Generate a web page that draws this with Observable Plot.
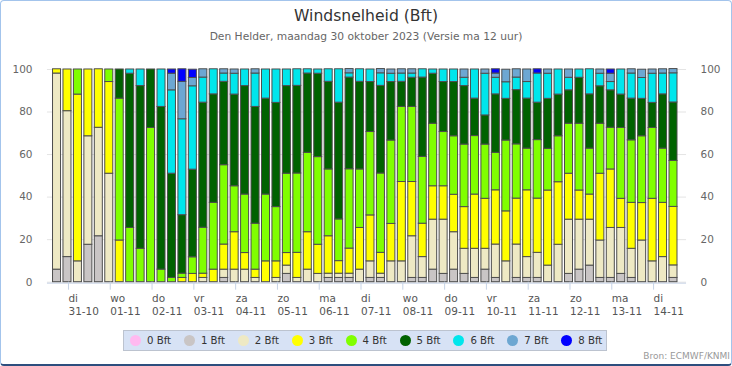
<!DOCTYPE html>
<html>
<head>
<meta charset="utf-8">
<script src="https://cdn.jsdelivr.net/npm/d3@7"></script>
<script src="https://cdn.jsdelivr.net/npm/@observablehq/plot@0.6"></script>
<style>
  body { margin: 0; background: #fff; font-family: "DejaVu Sans", sans-serif; }
  #wrap { position: relative; width: 732px; height: 366px; box-sizing: border-box;
          border: 1px solid #a3c4ec; border-bottom: 2px solid #2d4e7e; border-radius: 4px; overflow: hidden; background: #fff; }
  #title { position: absolute; left: 0; width: 100%; top: 8px; text-align: center; font-size: 15.6px; line-height: 15.6px; color: #333; }
  #subtitle { position: absolute; left: 0; width: 100%; top: 31px; text-align: center; font-size: 10.7px; line-height: 10.7px; color: #666; }
  #chart { position: absolute; left: -1px; top: 59px; }
  #legend { position: absolute; left: 122px; top: 329px; width: 484px; height: 21px; box-sizing: border-box;
            background: #d7e2f5; border: 1px solid #bcc3cf; }
  .item { position: absolute; top: 0; height: 19px; display: flex; align-items: center; font-size: 10.2px; color: #333; white-space: nowrap; }
  .dot { width: 11px; height: 11px; border-radius: 50%; margin-right: 6px; }
  #source { position: absolute; right: 1px; top: 350px; font-size: 9px; color: #999; }
</style>
</head>
<body>
<div id="wrap">
  <div id="title">Windsnelheid (Bft)</div>
  <div id="subtitle">Den Helder, maandag 30 oktober 2023 (Versie ma 12 uur)</div>
  <div id="chart"></div>
  <div id="legend"></div>
  <div id="source">Bron: ECMWF/KNMI</div>
</div>
<script>
// Categories (Beaufort classes) and colours
const categories = ["0 Bft","1 Bft","2 Bft","3 Bft","4 Bft","5 Bft","6 Bft","7 Bft","8 Bft"];
const colors = ["#ffb9f0","#c9c5c5","#eee9c4","#ffff00","#80ff00","#006200","#00e6ec","#6da7d2","#0000ff"];

// X axis tick labels (one per day, at midnight)
const dayNames  = ["di","wo","do","vr","za","zo","ma","di","wo","do","vr","za","zo","ma","di"];
const dayDates  = ["31-10","01-11","02-11","03-11","04-11","05-11","06-11","07-11","08-11","09-11","10-11","11-11","12-11","13-11","14-11"];
const yTicks = [0, 20, 40, 60, 80, 100];

// Percentage of ensemble members per class, 60 six-hourly bars (30-10 18u .. 14-11 12u)
const bft0 = [0,0,0,0,0,0,0,0,0,0, 0,0,0,0,0,0,0,0,0,0, 0,0,0,0,0,0,0,0,0,0, 0,0,0,0,0,0,0,0,0,0, 0,0,0,0,0,0,0,0,0,0, 0,0,0,0,0,0,0,0,0,0];
const bft1 = [5.9,11.8,0,17.6,21.6,0,0,0,0,0, 0,0,0,0,0,0,2.0,0,0,0, 0,0,3.9,0,0,0,2.0,2.0,2.0,0, 2.0,2.0,0,0,2.0,2.0,5.9,3.9,5.9,3.9, 2.0,5.9,2.0,0,2.0,2.0,2.0,0,0,3.9, 5.9,7.8,2.0,2.0,3.9,2.0,0,0,0,2.0];
const bft2 = [92.2,68.6,9.8,51.0,51.0,51.0,0,0,0,0, 0,0,0,0,2.0,0,3.9,5.9,5.9,2.0, 0,2.0,3.9,2.0,5.9,3.9,2.0,2.0,2.0,5.9, 7.8,2.0,9.8,9.8,19.6,9.8,23.5,25.5,17.6,11.8, 13.7,9.8,15.7,9.8,15.7,9.8,11.8,7.8,17.6,25.5, 23.5,21.6,17.6,23.5,21.6,13.7,19.6,9.8,11.8,5.9];
const bft3 = [2.0,19.6,78.4,31.4,27.5,43.1,19.6,0,0,0, 0,0,2.0,3.9,2.0,5.9,11.8,17.6,7.8,3.9, 9.8,7.8,5.9,11.8,17.6,13.7,17.6,5.9,11.8,19.6, 21.6,9.8,17.6,37.3,25.5,15.7,15.7,15.7,17.6,19.6, 25.5,23.5,25.5,23.5,21.6,31.4,25.5,35.3,29.4,21.6, 13.7,11.8,31.4,27.5,13.7,21.6,17.6,29.4,25.5,27.5];
const bft4 = [0,0,11.8,0,0,5.9,66.7,25.5,15.7,72.5, 5.9,2.0,2.0,7.8,21.6,31.4,37.3,21.6,27.5,21.6, 31.4,25.5,37.3,37.3,37.3,41.2,31.4,19.6,37.3,27.5, 39.2,37.3,39.2,35.3,35.3,31.4,29.4,25.5,27.5,29.4, 27.5,25.5,17.6,33.3,25.5,19.6,27.5,19.6,21.6,23.5, 31.4,21.6,23.5,19.6,33.3,29.4,31.4,33.3,25.5,21.6];
const bft5 = [0,0,0,0,0,0,13.7,72.5,76.5,27.5, 76.5,49.0,27.5,41.2,58.8,51.0,39.2,43.1,51.0,54.9, 45.1,49.0,41.2,41.2,37.3,39.2,41.2,54.9,43.1,41.2, 23.5,41.2,27.5,11.8,13.7,37.3,23.5,23.5,25.5,27.5, 17.6,13.7,27.5,19.6,25.5,23.5,17.6,23.5,19.6,15.7, 21.6,25.5,17.6,17.6,15.7,19.6,17.6,11.8,25.5,27.5];
const bft6 = [0,0,0,0,0,0,0,2.0,7.8,0, 17.6,39.2,45.1,39.2,11.8,11.8,3.9,9.8,7.8,15.7, 13.7,15.7,7.8,7.8,2.0,2.0,5.9,15.7,2.0,5.9, 5.9,5.9,3.9,3.9,2.0,3.9,2.0,5.9,5.9,3.9, 13.7,19.6,7.8,7.8,5.9,7.8,13.7,11.8,11.8,5.9, 3.9,11.8,5.9,3.9,11.8,11.8,9.8,13.7,9.8,13.7];
const bft7 = [0,0,0,0,0,0,0,0,0,0, 0,7.8,17.6,3.9,3.9,0,2.0,2.0,0,2.0, 0,0,0,0,0,0,0,0,2.0,0, 0,2.0,2.0,2.0,2.0,0,0,0,0,3.9, 0,2.0,2.0,5.9,3.9,5.9,0,2.0,0,3.9, 0,0,2.0,3.9,0,2.0,3.9,2.0,2.0,2.0];
const bft8 = [0,0,0,0,0,0,0,0,0,0, 0,2.0,5.9,3.9,0,0,0,0,0,0, 0,0,0,0,0,0,0,0,0,0, 0,0,0,0,0,0,0,0,0,0, 0,0,2.0,0,0,0,2.0,0,0,0, 0,0,0,2.0,0,0,0,0,0,0];
const series = [bft0, bft1, bft2, bft3, bft4, bft5, bft6, bft7, bft8];

const H = 3600e3;
const firstBar = Date.UTC(2023, 9, 30, 18);
const times = bft1.map((_, i) => new Date(firstBar + i * 6 * H));
const tickDates = dayDates.map((_, i) => new Date(Date.UTC(2023, 9, 31) + i * 24 * H));
const labelOf = new Map(tickDates.map((d, i) => [+d, dayNames[i] + "\n" + dayDates[i]]));

// Build stacked rectangles
const rows = [];
times.forEach((t, i) => {
  let cum = 0;
  series.forEach((s, k) => {
    const v = s[i];
    if (v > 0) {
      rows.push({x1: new Date(+t - 2.3 * H), x2: new Date(+t + 2.3 * H), y1: cum, y2: cum + v, cat: categories[k]});
      cum += v;
    }
  });
});

const chart = Plot.plot({
  width: 732,
  height: 268,
  marginTop: 9, marginBottom: 46, marginLeft: 47, marginRight: 45,
  style: {fontFamily: "DejaVu Sans, sans-serif", fontSize: "10.5px", color: "#666", background: "transparent", overflow: "visible"},
  x: {type: "utc", domain: [new Date(Date.UTC(2023, 9, 30, 12, 30)), new Date(Date.UTC(2023, 10, 14, 19, 30))]},
  y: {domain: [0, 100]},
  color: {domain: categories, range: colors},
  marks: [
    Plot.gridY(yTicks, {stroke: "#e4e4e4", strokeOpacity: 1}),
    Plot.ruleY([0], {stroke: "#c6d3e6", dy: 1}),
    Plot.rect(rows, {x1: "x1", x2: "x2", y1: "y1", y2: "y2", fill: "cat", stroke: "#4d4d4d", strokeWidth: 1}),
    Plot.axisY(yTicks, {anchor: "left", tickSize: 0, tickPadding: 15, fill: "#666"}),
    Plot.axisY(yTicks, {anchor: "right", tickSize: 0, tickPadding: 14, fill: "#666"}),
    Plot.axisX(tickDates, {anchor: "bottom", tickSize: 8, tickPadding: 2.5, textAnchor: "start", dx: 1,
      lineHeight: 1.24, stroke: "#c6d3e6", fill: "#555", tickFormat: d => labelOf.get(+d)})
  ]
});
document.getElementById("chart").appendChild(chart);

// Legend
const legend = document.getElementById("legend");
categories.forEach((c, k) => {
  const it = document.createElement("div");
  it.className = "item";
  it.style.left = (6 + k * 53.9) + "px";
  it.innerHTML = `<span class="dot" style="background:${colors[k]}"></span><span>${c}</span>`;
  legend.appendChild(it);
});
</script>
</body>
</html>
